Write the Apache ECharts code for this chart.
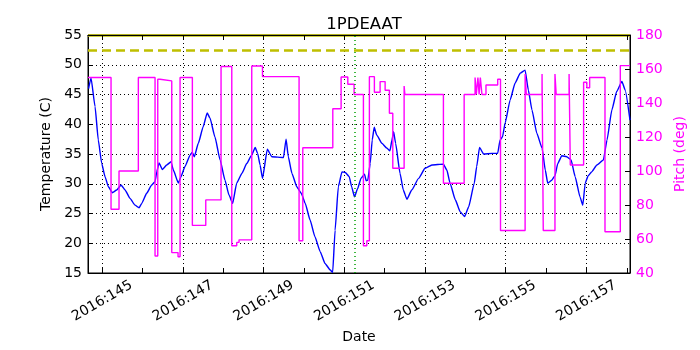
<!DOCTYPE html>
<html>
<head>
<meta charset="utf-8">
<script src="https://cdn.jsdelivr.net/npm/echarts@6/dist/echarts.min.js"></script>
<style>
  html, body { margin: 0; padding: 0; background: #fff; }
  #chart { width: 700px; height: 350px; }
</style>
</head>
<body>
<div id="chart"></div>
<script>
// temperature (left axis), day of year 2016
const tempDays = [144.66, 144.72, 144.82, 144.90, 144.985, 145.067, 145.149, 145.248, 145.357, 145.464,
  145.563, 145.687, 145.81, 145.91, 145.977, 146.1, 146.225, 146.307, 146.35, 146.406,
  146.488, 146.597, 146.703, 146.76, 146.885, 146.95, 147.05, 147.175, 147.23, 147.28,
  147.38, 147.5, 147.6, 147.67, 147.79, 147.92, 148.04, 148.14, 148.23, 148.33,
  148.46, 148.58, 148.7, 148.79, 148.85, 148.91, 148.97, 149.09, 149.2, 149.49,
  149.555, 149.61, 149.7, 149.82, 149.93, 150.03, 150.15, 150.27, 150.4, 150.52,
  150.65, 150.71, 150.77, 150.85, 150.94, 151.02, 151.12, 151.18, 151.25, 151.33,
  151.41, 151.5, 151.54, 151.58, 151.64, 151.69, 151.74, 151.8, 151.93, 152.05,
  152.13, 152.18, 152.22, 152.27, 152.38, 152.46, 152.55, 152.67, 152.84, 153.0,
  153.17, 153.455, 153.54, 153.62, 153.75, 153.87, 153.98, 154.08, 154.22, 154.28,
  154.35, 154.45, 154.66, 154.8, 154.86, 154.92, 154.985, 155.11, 155.23, 155.36,
  155.48, 155.56, 155.65, 155.77, 155.9, 155.98, 156.04, 156.14, 156.22, 156.29,
  156.39, 156.51, 156.62, 156.72, 156.84, 156.91, 156.97, 157.04, 157.13, 157.26,
  157.42, 157.51, 157.63, 157.75, 157.88, 157.96, 158.08];
const tempValues = [46.0, 47.8, 42.95, 37.35, 33.4, 31.2, 29.5, 28.5, 28.95, 29.8,
  28.95, 27.55, 26.4, 25.97, 26.7, 28.4, 29.8, 30.35, 32.0, 33.5,
  32.4, 33.15, 33.7, 32.3, 30.1, 31.2, 32.9, 34.8, 35.3, 34.55,
  36.8, 39.6, 41.9, 41.0, 37.9, 34.0, 30.6, 28.1, 26.7, 30.1,
  31.75, 33.4, 34.8, 36.1, 35.1, 33.15, 30.9, 35.8, 34.55, 34.4,
  37.5, 34.55, 31.75, 29.5, 28.4, 26.7, 23.9, 21.1, 18.6, 16.6,
  15.5, 15.1, 22.2, 29.5, 32.0, 31.9, 31.2, 29.5, 27.8, 29.2,
  30.9, 31.6, 30.5, 30.6, 33.4, 37.35, 39.5, 38.2, 36.8, 36.0,
  35.55, 37.35, 38.75, 36.8, 31.75, 28.95, 27.4, 28.95, 30.9, 32.6,
  33.15, 33.3, 32.3, 30.1, 27.3, 25.3, 24.5, 26.1, 30.1, 32.9,
  36.1, 35.0, 35.1, 35.1, 37.35, 37.9, 40.2, 44.1, 46.9, 48.6,
  49.1, 45.75, 42.4, 38.5, 36.0, 32.3, 30.1, 30.6, 31.35, 33.4,
  34.7, 34.55, 34.0, 31.2, 27.8, 26.4, 30.1, 31.3, 32.0, 33.15,
  34.0, 37.35, 42.4, 45.5, 47.2, 45.75, 40.7];

// pitch (right axis): value holds from each day until the next one
const pitchDays = [144.645, 145.216, 145.414, 145.893, 146.307, 146.374, 146.43, 146.721, 146.877, 146.927,
  147.232, 147.564, 147.943, 148.209, 148.332, 148.389, 148.704, 148.97, 149.877, 149.969,
  150.713, 150.919, 151.085, 151.241, 151.472, 151.556, 151.62, 151.744, 151.886, 152.01,
  152.116, 152.2, 152.481, 152.5, 153.455, 153.969, 154.24, 154.27, 154.31, 154.34,
  154.37, 154.41, 154.51, 154.80, 154.87, 155.48, 155.51, 155.9, 155.93, 156.22,
  156.25, 156.57, 156.6, 156.93, 157.01, 157.08, 157.46, 157.84, 158.08];
const pitchValues = [155, 77.5, 100, 155, 50, 154, 153, 52, 49.6, 155,
  68, 83, 161.5, 56, 58, 59.5, 161.8, 155.5, 59, 113.7,
  136.6, 155.3, 151, 145, 56, 59, 155.5, 146.3, 152.6, 147.5,
  134, 101.6, 150, 145, 92.8, 145, 155, 145, 155, 145,
  155, 145, 150.6, 154, 65, 157, 145, 157, 65, 157,
  145, 157, 103.5, 152.2, 149, 155, 64.3, 162, 162];

const tickDays = [145, 146, 147, 148, 149, 150, 151, 152, 153, 154, 155, 156, 157, 158];
const labelDays = [145, 147, 149, 151, 153, 155, 157];
const dayMin = 144.645;
const dayMax = 158.08;
const limitHigh = 55;
const limitPlan = 52.5;
const eventDay = 151.25;

const font = 'DejaVu Sans';
const chart = echarts.init(document.getElementById('chart'));

const xBase = {
  type: 'value', min: dayMin, max: dayMax, gridIndex: 0
};

chart.setOption({
  animation: false,
  textStyle: { fontFamily: font },
  title: {
    text: '1PDEAAT', left: 359, top: 11, textAlign: 'center',
    textStyle: { fontFamily: font, fontSize: 16.5, fontWeight: 'normal', color: '#000' }
  },
  grid: {
    left: 88, right: 70, top: 35, bottom: 77,
    show: true, borderColor: '#000', borderWidth: 1, backgroundColor: '#fff'
  },
  xAxis: [
    Object.assign({}, xBase, {
      position: 'bottom',
      name: 'Date', nameLocation: 'middle', nameGap: 57,
      nameTextStyle: { fontFamily: font, fontSize: 14, color: '#000' },
      axisLine: { show: true, lineStyle: { color: '#000', width: 1 } },
      axisTick: { show: true, inside: true, length: 5, customValues: tickDays, lineStyle: { color: '#000' } },
      axisLabel: {
        customValues: labelDays, formatter: v => '2016:' + v,
        rotate: 30, align: 'center', verticalAlign: 'middle', margin: 28,
        fontFamily: font, fontSize: 14, color: '#000'
      },
      splitLine: { show: false }
    }),
    Object.assign({}, xBase, {
      position: 'top', z: 10,
      axisLine: { show: true, lineStyle: { color: '#000', width: 1 } },
      axisTick: { show: true, inside: true, length: 5, customValues: tickDays, lineStyle: { color: '#000' } },
      axisLabel: { show: false },
      splitLine: { show: false }
    }),
    Object.assign({}, xBase, {
      position: 'bottom',
      axisLine: { show: false },
      axisTick: { show: false, customValues: labelDays },
      axisLabel: { show: false },
      splitLine: { show: true, lineStyle: { color: '#000', width: 1, type: [1, 3] } }
    })
  ],
  yAxis: [
    {
      type: 'value', position: 'left', min: 15, max: 55, interval: 5,
      name: 'Temperature (C)', nameLocation: 'middle', nameGap: 25, nameRotate: 90,
      nameTextStyle: { fontFamily: font, fontSize: 14, color: '#000' },
      axisLine: { show: true, lineStyle: { color: '#000', width: 1 } },
      axisTick: { show: true, inside: true, length: 5, lineStyle: { color: '#000' } },
      axisLabel: { fontFamily: font, fontSize: 14, color: '#000', margin: 6 },
      splitLine: { show: true, lineStyle: { color: '#000', width: 1, type: [1, 3] } }
    },
    {
      type: 'value', position: 'right', min: 40, max: 180, interval: 20,
      name: 'Pitch (deg)', nameLocation: 'middle', nameGap: 30, nameRotate: 90,
      nameTextStyle: { fontFamily: font, fontSize: 14, color: '#ff00ff' },
      axisLine: { show: true, lineStyle: { color: '#000', width: 1 } },
      axisTick: { show: true, inside: true, length: 5, lineStyle: { color: '#000' } },
      axisLabel: { fontFamily: font, fontSize: 14, color: '#ff00ff', margin: 6 },
      splitLine: { show: false }
    }
  ],
  series: [
    {
      name: 'Temperature', type: 'line', xAxisIndex: 0, yAxisIndex: 0,
      data: tempDays.map((d, i) => [d, tempValues[i]]),
      showSymbol: false, symbol: 'none',
      smooth: 0.15, smoothMonotone: 'x',
      lineStyle: { color: '#0000ff', width: 1.4 },
      z: 3,
      markLine: {
        silent: true, symbol: 'none', label: { show: false },
        data: [
          { yAxis: limitHigh, lineStyle: { color: '#bfbf00', width: 2.5, type: 'solid' } },
          { yAxis: limitPlan, lineStyle: { color: '#bfbf00', width: 2.5, type: [9, 5] } },
          { xAxis: eventDay, lineStyle: { color: '#00a000', width: 1.5, type: [1, 3] } }
        ]
      }
    },
    {
      name: 'Pitch', type: 'line', xAxisIndex: 0, yAxisIndex: 1,
      data: pitchDays.map((d, i) => [d, pitchValues[i]]),
      step: 'end', showSymbol: false, symbol: 'none',
      lineStyle: { color: '#ff00ff', width: 1.4 },
      z: 4
    }
  ]
});
</script>
</body>
</html>
